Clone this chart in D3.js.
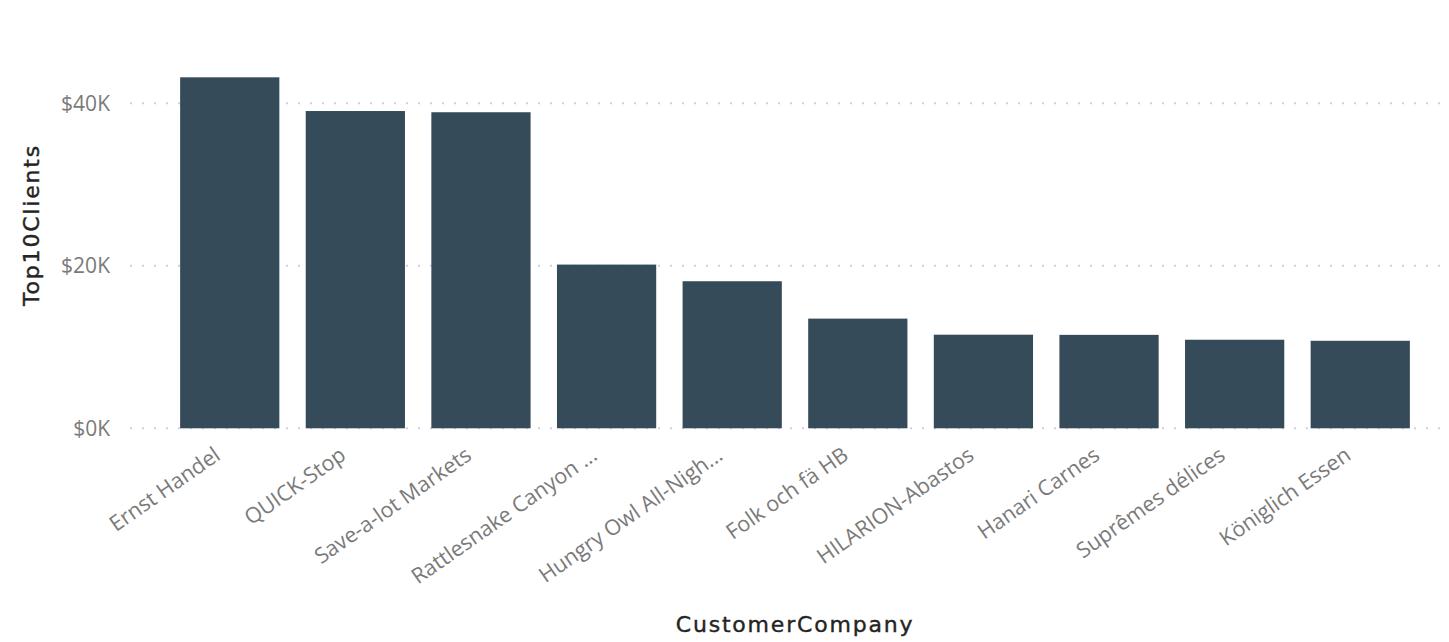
<!DOCTYPE html>
<html>
<head>
<meta charset="utf-8">
<script src="https://cdn.jsdelivr.net/npm/d3@7"></script>
<style>
  body { margin: 0; background: #fff; }
  svg { display: block; }
</style>
</head>
<body>
<div id="chart"></div>
<script>
// Data
const companies = ["Ernst Handel", "QUICK-Stop", "Save-a-lot Markets", "Rattlesnake Canyon ...",
  "Hungry Owl All-Nigh...", "Folk och fä HB", "HILARION-Abastos", "Hanari Carnes",
  "Suprêmes délices", "Königlich Essen"];
const sales = [43200, 39050, 38900, 20150, 18100, 13500, 11520, 11500, 10900, 10770];
const yTicks = [0, 20000, 40000];

const width = 1449;
const height = 642;
const plot = { left: 155, right: 1435, top: 45, bottom: 428.3 };

const svg = d3.select("#chart").append("svg")
  .attr("width", width)
  .attr("height", height);

const xscale = d3.scaleBand()
  .domain(companies)
  .range([plot.left, plot.right])
  .paddingInner(0.21)
  .paddingOuter(0.2);

const yscale = d3.scaleLinear()
  .domain([0, 40000 * (plot.bottom - plot.top) / (428.3 - 103.3)])
  .range([plot.bottom, plot.top]);

// gridlines (dotted)
svg.append("g")
  .selectAll("line")
  .data(yTicks)
  .join("line")
  .attr("x1", 130)
  .attr("x2", 1442)
  .attr("y1", d => yscale(d))
  .attr("y2", d => yscale(d))
  .attr("stroke", "#cfcfe2")
  .attr("stroke-width", 2)
  .attr("stroke-dasharray", "2,10");

// y axis
const yAxis = d3.axisLeft(yscale)
  .tickValues(yTicks)
  .tickSize(0)
  .tickPadding(0)
  .tickFormat(d => "$" + d / 1000 + "K");

const gY = svg.append("g")
  .attr("transform", "translate(110,0)")
  .call(yAxis);
gY.select(".domain").remove();
gY.selectAll("text")
  .attr("fill", "#7a7a7a")
  .style("font-family", "'Open Sans', sans-serif")
  .style("font-size", "21px");

// bars
svg.append("g")
  .selectAll("rect")
  .data(sales)
  .join("rect")
  .attr("x", (d, i) => xscale(companies[i]))
  .attr("y", d => yscale(d))
  .attr("width", xscale.bandwidth())
  .attr("height", d => yscale(0) - yscale(d))
  .attr("fill", "#364b5a");

// x axis
const xAxis = d3.axisBottom(xscale).tickSize(0).tickPadding(0);
const gX = svg.append("g")
  .attr("transform", `translate(0,${plot.bottom})`)
  .call(xAxis);
gX.select(".domain").remove();
gX.selectAll("text")
  .attr("fill", "#7a7a7a")
  .attr("text-anchor", "end")
  .attr("dy", "0")
  .attr("transform", "translate(-8,30) rotate(-35)")
  .style("font-family", "'Open Sans', sans-serif")
  .style("font-size", "21.5px");

// axis titles
svg.append("text")
  .attr("x", 795)
  .attr("y", 632)
  .attr("text-anchor", "middle")
  .attr("fill", "#252423")
  .attr("stroke", "#252423")
  .attr("stroke-width", 0.4)
  .style("font-family", "'DejaVu Sans', sans-serif")
  .style("font-size", "22px")
  .style("letter-spacing", "1.8px")
  .text("CustomerCompany");

svg.append("text")
  .attr("transform", "translate(39,225) rotate(-90)")
  .attr("text-anchor", "middle")
  .attr("fill", "#252423")
  .attr("stroke", "#252423")
  .attr("stroke-width", 0.4)
  .style("font-family", "'DejaVu Sans', sans-serif")
  .style("font-size", "22px")
  .style("letter-spacing", "1.8px")
  .text("Top10Clients");
</script>
</body>
</html>
